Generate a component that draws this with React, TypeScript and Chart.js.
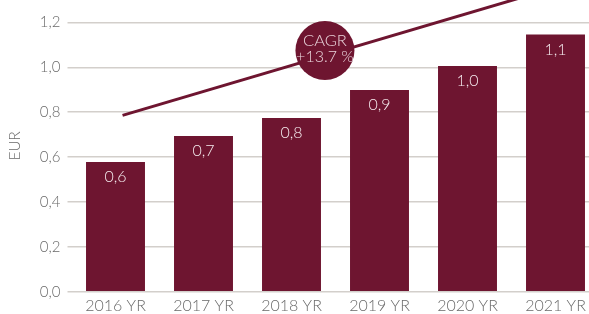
import React, { useEffect, useRef } from "react";
import { Chart, registerables } from "chart.js";

Chart.register(...registerables);

const categories = ["2016 YR", "2017 YR", "2018 YR", "2019 YR", "2020 YR", "2021 YR"];
const eurValues = [0.578, 0.694, 0.774, 0.899, 1.006, 1.146];
const trendLine = [
  { x: 0.08, y: 0.786 },
  { x: 5.5, y: 1.414 },
];
const cagrBubble = [{ x: 2.38, y: 1.075, r: 29.5 }];
const cagrText = ["CAGR", "+13.7 %"];
const yTicks = [0, 0.2, 0.4, 0.6, 0.8, 1.0, 1.2];

const WINE = "#6e1530";
const FONT = "Lato, 'Open Sans', sans-serif";

const fmt = (v: number) => v.toFixed(1).replace(".", ",");

const labelPlugin = {
  id: "labels",
  afterDatasetsDraw(chart: any) {
    const ctx = chart.ctx;
    ctx.save();
    const barMeta = chart.getDatasetMeta(0);
    ctx.fillStyle = "#f6ecef";
    ctx.font = `300 16px ${FONT}`;
    ctx.textAlign = "center";
    ctx.textBaseline = "middle";
    barMeta.data.forEach((bar: any, i: number) => {
      ctx.fillText(fmt(eurValues[i]), bar.x, bar.y + 15);
    });
    const bMeta = chart.getDatasetMeta(2);
    const b = bMeta.data[0];
    if (b) {
      ctx.fillStyle = "#e8d2d9";
      ctx.font = `300 16.5px ${FONT}`;
      ctx.fillText(cagrText[0], b.x, b.y - 9.5);
      ctx.font = `300 16px ${FONT}`;
      ctx.fillText(cagrText[1], b.x, b.y + 6.5);
    }
    ctx.restore();
  },
};

const zeroPad = (scale: any) => {
  scale.paddingTop = 0;
  scale.paddingBottom = 0;
  scale.paddingLeft = 0;
  scale.paddingRight = 0;
};

export default function App() {
  const ref = useRef<HTMLCanvasElement>(null);
  useEffect(() => {
    if (!ref.current) return;
    const chart = new Chart(ref.current, {
      type: "bar",
      data: {
        labels: categories,
        datasets: [
          {
            type: "bar",
            data: eurValues,
            backgroundColor: WINE,
            categoryPercentage: 1,
            barPercentage: 0.67,
            grouped: false,
            order: 3,
          } as any,
          {
            type: "line",
            data: trendLine,
            xAxisID: "x2",
            borderColor: WINE,
            borderWidth: 3,
            pointRadius: 0,
            fill: false,
            order: 2,
          } as any,
          {
            type: "bubble",
            data: cagrBubble,
            xAxisID: "x2",
            backgroundColor: WINE,
            borderWidth: 0,
            order: 1,
          } as any,
        ],
      },
      options: {
        animation: false,
        responsive: false,
        layout: { autoPadding: false, padding: { left: 0, right: 4.5, top: 0, bottom: 0 } },
        plugins: { legend: { display: false }, tooltip: { enabled: false } },
        scales: {
          x: {
            type: "category",
            offset: true,
            grid: { display: false, drawTicks: false },
            border: { display: false },
            ticks: { color: "#6a6a6a", font: { family: FONT, size: 16, weight: 300 as any }, padding: 5 },
            afterFit(scale: any) {
              scale.height = 22.3;
              zeroPad(scale);
            },
          },
          x2: {
            type: "linear",
            axis: "x",
            display: false,
            offset: false,
            grid: { offset: false },
            min: -0.5,
            max: 5.5,
            afterFit(scale: any) {
              scale.height = 0;
              zeroPad(scale);
            },
          },
          y: {
            min: 0,
            max: 1.3,
            afterBuildTicks(scale: any) {
              scale.ticks = yTicks.map((v) => ({ value: v }));
            },
            ticks: {
              color: "#6a6a6a",
              font: { family: FONT, size: 15, weight: 300 as any },
              padding: 7,
              callback: (v: any) => fmt(Number(v)),
            },
            grid: { color: "#d3cfcb", lineWidth: 1.5, tickLength: 4 },
            border: { display: false },
            title: {
              display: true,
              text: "EUR",
              color: "#6a6a6a",
              font: { family: FONT, size: 15, weight: 300 as any },
              padding: { top: 6.5, bottom: 0 },
            },
            afterFit(scale: any) {
              scale.width = 71.5;
              zeroPad(scale);
            },
          },
        },
      },
      plugins: [labelPlugin],
    });
    return () => chart.destroy();
  }, []);
  return (
    <div style={{ position: "absolute", left: 0, top: 0, width: 589, height: 314, overflow: "hidden", background: "#fff" }}>
      <canvas ref={ref} width={604} height={314} style={{ width: 604, height: 314 }} />
    </div>
  );
}
